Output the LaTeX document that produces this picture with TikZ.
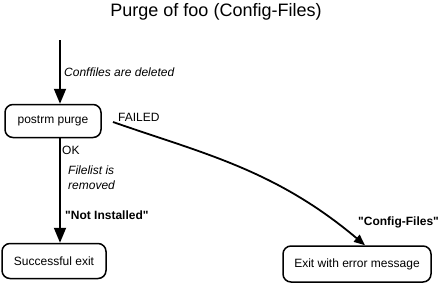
\documentclass[tikz,border=0pt]{standalone}
\usepackage{fontspec}
\setmainfont{Liberation Sans}[Ligatures=TeXOff]
\usetikzlibrary{arrows.meta}
\begin{document}
\begin{tikzpicture}[x=1pt,y=-1pt,
  statebox/.style={draw, line width=1.5pt, rounded corners=8pt, inner sep=0pt,
    font=\fontsize{12}{14}\selectfont},
  lbl/.style={anchor=west, inner sep=0pt, font=\fontsize{12}{14}\selectfont},
  ilbl/.style={lbl, font=\fontsize{12}{15}\selectfont\itshape, align=left},
  blbl/.style={lbl, font=\fontsize{12}{14}\selectfont\bfseries},
  bigarrow/.style={line width=1.8pt, -{Triangle[length=15pt,width=12pt]}},
  smallarrow/.style={line width=1.8pt, -{Triangle[length=11pt,width=9pt]}}]
\useasboundingbox (0,0) rectangle (443,284);
\node[inner sep=0pt, font=\fontsize{18}{20}\selectfont] (title) at (216,12) {Purge of foo (Config-Files)};
\node[statebox, minimum width=96pt, minimum height=33pt] (pp) at (53,121) {postrm purge};
\node[statebox, minimum width=104pt, minimum height=35pt] (se) at (54,261) {Successful exit};
\node[statebox, minimum width=148pt, minimum height=36pt] (ex) at (357,264) {Exit with error message};
\coordinate (top) at (60,40);
\coordinate (fs) at (113,122);
\coordinate (ok) at (60,137);
\draw[bigarrow] (top) -- (top |- pp.north);
\draw[bigarrow] (ok |- pp.south) -- (ok |- se.north);
\draw[smallarrow] (fs) .. controls (203,153.5) and (275,169.5) .. (365,0 |- ex.north);
\node[ilbl] (l1) at (64,72) {Conffiles are deleted};
\node[lbl] (l2) at (62,150) {OK};
\node[ilbl] (l3) at (68,178) {Filelist is\\removed};
\node[blbl] (l4) at (65,215) {"Not Installed"};
\node[lbl] (l5) at (118,117) {FAILED};
\node[blbl] (l6) at (358,222) {"Config-Files"};
\end{tikzpicture}
\end{document}
